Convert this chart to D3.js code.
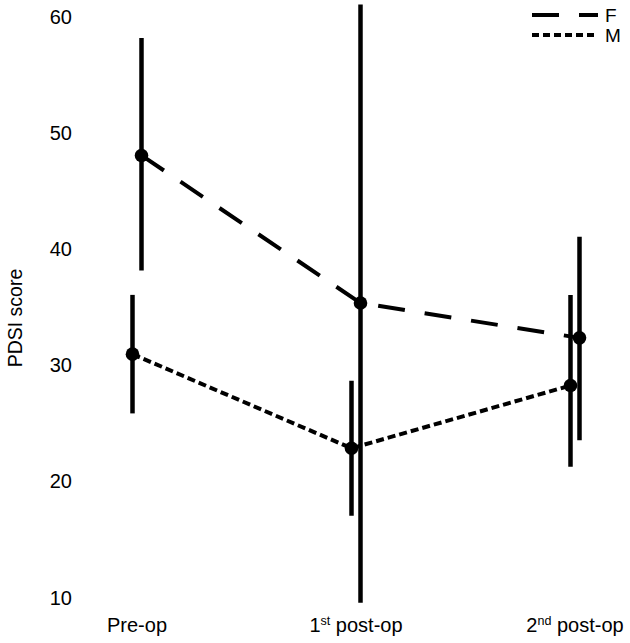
<!DOCTYPE html>
<html>
<head>
<meta charset="utf-8">
<script src="https://cdn.jsdelivr.net/npm/d3@7"></script>
<style>
  html, body { margin: 0; padding: 0; background: #fff; }
  svg { display: block; font-family: "Liberation Sans", Arial, Helvetica, sans-serif; }
</style>
</head>
<body>
<svg id="chart" width="630" height="643"></svg>
<script>
// ---- data ----
const categories = ["Pre-op", "1st post-op", "2nd post-op"];
const catMain = ["Pre-op", "1", "2"];
const catSup = ["", "st", "nd"];
const catRest = ["", " post-op", " post-op"];
const seriesNames = ["F", "M"];
const meanF = [48.0, 35.3, 32.3];
const lowF = [38.1, 9.5, 23.5];
const highF = [58.1, 61.0, 41.0];
const meanM = [30.9, 22.8, 28.2];
const lowM = [25.8, 17.0, 21.2];
const highM = [36.0, 28.6, 36.0];
const yTicks = [10, 20, 30, 40, 50, 60];
const yLabel = "PDSI score";

// ---- layout ----
const svg = d3.select("#chart");
const x = d3.scalePoint().domain(categories).range([137, 575]);
const y = d3.scaleLinear().domain([10, 60]).range([597, 16]);
const offset = { F: 4.5, M: -4.5 };
const dash = { F: "27,20", M: "8,4" };

const series = [
  { name: "F", mean: meanF, lo: lowF, hi: highF },
  { name: "M", mean: meanM, lo: lowM, hi: highM }
];

// y tick labels
const yAxis = d3.axisLeft(y).tickValues(yTicks).tickSize(0).tickPadding(0);
const gy = svg.append("g").attr("transform", "translate(72,0)").call(yAxis);
gy.select(".domain").remove();
gy.selectAll("text").attr("font-size", 20).attr("fill", "#000")
  .attr("font-family", "Liberation Sans, Arial, sans-serif").attr("dy", "0.35em");

// y label
svg.append("text")
  .attr("transform", "translate(22,318) rotate(-90)")
  .attr("text-anchor", "middle")
  .attr("font-size", 19.5)
  .attr("fill", "#000")
  .text(yLabel);

// category labels
categories.forEach((c, i) => {
  const t = svg.append("text")
    .attr("x", x(c))
    .attr("y", 632)
    .attr("text-anchor", "middle")
    .attr("font-size", 20)
    .attr("fill", "#000");
  t.append("tspan").text(catMain[i]);
  if (catSup[i]) {
    t.append("tspan").attr("font-size", 12.5).attr("dy", -7).text(catSup[i]);
    t.append("tspan").attr("dy", 7).text(catRest[i]);
  }
});

// lines
series.forEach(s => {
  const line = d3.line()
    .x((d, i) => x(categories[i]) + offset[s.name])
    .y(d => y(d));
  svg.append("path")
    .datum(s.mean)
    .attr("d", line)
    .attr("fill", "none")
    .attr("stroke", "#000")
    .attr("stroke-width", 4)
    .attr("stroke-dasharray", dash[s.name]);
});

// error bars
series.forEach(s => {
  svg.append("g").selectAll("line")
    .data(s.mean)
    .join("line")
    .attr("x1", (d, i) => x(categories[i]) + offset[s.name])
    .attr("x2", (d, i) => x(categories[i]) + offset[s.name])
    .attr("y1", (d, i) => y(s.lo[i]))
    .attr("y2", (d, i) => y(s.hi[i]))
    .attr("stroke", "#000")
    .attr("stroke-width", 4.5);
});

// points
series.forEach(s => {
  svg.append("g").selectAll("circle")
    .data(s.mean)
    .join("circle")
    .attr("cx", (d, i) => x(categories[i]) + offset[s.name])
    .attr("cy", d => y(d))
    .attr("r", 6.8)
    .attr("fill", "#000");
});

// legend
const legend = svg.append("g");
seriesNames.forEach((n, i) => {
  const ly = 15 + i * 20;
  legend.append("line")
    .attr("x1", 532).attr("x2", 598)
    .attr("y1", ly).attr("y2", ly)
    .attr("stroke", "#000")
    .attr("stroke-width", 4)
    .attr("stroke-dasharray", n === "F" ? "27,20" : "7,4");
  legend.append("text")
    .attr("x", 605).attr("y", ly)
    .attr("dy", "0.36em")
    .attr("font-size", 19)
    .attr("fill", "#000")
    .text(n);
});
</script>
</body>
</html>
